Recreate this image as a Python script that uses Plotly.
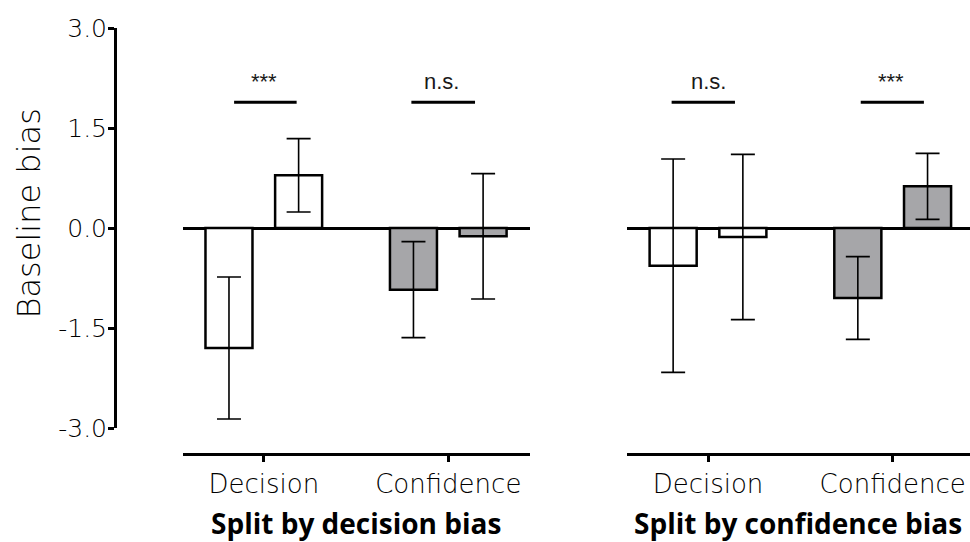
import plotly.graph_objects as go

# ---------------- data ----------------
categories = ["Decision", "Confidence"]
bar_colors = ["white", "#a6a6a9"]

# Split by decision bias
dec_first_vals = [-1.80, -0.925]
dec_first_err = [1.065, 0.72]
dec_second_vals = [0.79, -0.125]
dec_second_err = [0.55, 0.94]

# Split by confidence bias
conf_first_vals = [-0.565, -1.05]
conf_first_err = [1.60, 0.62]
conf_second_vals = [-0.135, 0.625]
conf_second_err = [1.24, 0.495]

y_tickvals = [-3.0, -1.5, 0.0, 1.5, 3.0]
y_ticktext = ["-3.0", "-1.5", "0.0", "1.5", "3.0"]

panel_titles = ["Split by decision bias", "Split by confidence bias"]
left_sig = ["***", "n.s."]
right_sig = ["n.s.", "***"]
sig_level = 1.887

# ---------------- layout geometry ----------------
W, H = 970, 542
M_T, M_B = 28, 89
plot_h = H - M_T - M_B
LIGHT = dict(family="DejaVu Sans", weight=200)
TXT = "#000000"


def bar(vals, errs, xa, ya):
    return go.Bar(
        x=categories, y=vals,
        marker=dict(color=bar_colors, line=dict(color="black", width=2.5)),
        error_y=dict(type="data", array=errs, visible=True, color="black",
                     thickness=1.6, width=12),
        xaxis=xa, yaxis=ya, showlegend=False, hoverinfo="skip",
    )


fig = go.Figure()
fig.add_trace(bar(dec_first_vals, dec_first_err, "x", "y"))
fig.add_trace(bar(dec_second_vals, dec_second_err, "x", "y"))
fig.add_trace(bar(conf_first_vals, conf_first_err, "x2", "y2"))
fig.add_trace(bar(conf_second_vals, conf_second_err, "x2", "y2"))
# dummy trace for the free-standing y axis
fig.add_trace(go.Scatter(x=[None], y=[None], xaxis="x3", yaxis="y3",
                         showlegend=False, hoverinfo="skip"))

y_lo = -3.0 - 25 / (400 / 6.0)  # bottom of plotting area (x-axis line)
y_rng = [y_lo, 3.0]

xcommon = dict(
    type="category", showline=True, linewidth=3, linecolor="black",
    ticks="outside", ticklen=6, tickwidth=3, tickcolor="black",
    showgrid=False, zeroline=False,
    tickfont=dict(size=26, color=TXT, **LIGHT),
    fixedrange=True, automargin=False,
)
ycommon = dict(
    range=y_rng, showline=False, showgrid=False, showticklabels=False,
    ticks="", zeroline=True, zerolinewidth=3, zerolinecolor="black",
    fixedrange=True, automargin=False,
)

fig.update_layout(
    width=W, height=H,
    margin=dict(l=0, r=0, t=M_T, b=M_B),
    paper_bgcolor="white", plot_bgcolor="rgba(0,0,0,0)",
    barmode="group", bargap=0.245, bargroupgap=0.325,
    xaxis=dict(domain=[183 / W, 530 / W], range=[-0.438, 1.443], anchor="y", **xcommon),
    xaxis2=dict(domain=[627 / W, 1.0], range=[-0.4386, 1.4186], anchor="y2", **xcommon),
    yaxis=dict(domain=[0, 1], anchor="x", **ycommon),
    yaxis2=dict(domain=[0, 1], anchor="x2", **ycommon),
    xaxis3=dict(visible=False, domain=[0, 0.05], anchor="y3", fixedrange=True),
    yaxis3=dict(
        domain=[25 / plot_h, 1.0], range=[-3.0, 3.0], anchor="free",
        position=115 / W, side="left",
        showline=True, linewidth=3, linecolor="black",
        ticks="outside", ticklen=6, tickwidth=3, tickcolor="black",
        tickvals=y_tickvals, ticktext=y_ticktext, ticklabelstandoff=-4,
        tickfont=dict(size=25, color=TXT, **LIGHT),
        showgrid=False, zeroline=False, fixedrange=True, automargin=False,
    ),
)

# significance lines and labels (offsets relative to category centre)
line_spans = {("x", 0): (-0.161, 0.178), ("x", 1): (-0.200, 0.145),
              ("x2", 0): (-0.197, 0.146), ("x2", 1): (-0.173, 0.169)}
text_shift = {("x", 0): 0.0, ("x", 1): -0.036, ("x2", 0): 0.0, ("x2", 1): -0.01}
annotations = []
shapes = []
for xref, yref, labels in (("x", "y", left_sig), ("x2", "y2", right_sig)):
    for i, lab in enumerate(labels):
        a, b = line_spans[(xref, i)]
        shapes.append(dict(type="line", xref=xref, yref=yref,
                           x0=i + a, x1=i + b, y0=sig_level, y1=sig_level,
                           line=dict(color="black", width=3)))
        annotations.append(dict(xref=xref, yref=yref, x=i + text_shift[(xref, i)],
                                y=sig_level + 0.315, text=lab, showarrow=False,
                                yanchor="middle",
                                font=dict(family="Liberation Sans", size=22, color="#1a1a1a")))

# panel titles
for xc, t in ((355.5 / W, panel_titles[0]), (798 / W, panel_titles[1])):
    annotations.append(dict(xref="paper", yref="paper", x=xc, y=(H - M_B - 523) / plot_h,
                            text="<b>" + t + "</b>", showarrow=False,
                            xanchor="center", yanchor="middle",
                            font=dict(family="Open Sans", size=28, color="black")))

# y-axis title
annotations.append(dict(xref="paper", yref="paper", x=28.5 / W, y=(H - M_B - 214) / plot_h,
                        text="Baseline bias", textangle=-90, showarrow=False,
                        xanchor="center", yanchor="middle",
                        font=dict(size=32, color=TXT, **LIGHT)))

fig.update_layout(shapes=shapes, annotations=annotations)

fig.write_html("out.html", config={"displayModeBar": False},
               post_script="document.body.style.margin='0';")
